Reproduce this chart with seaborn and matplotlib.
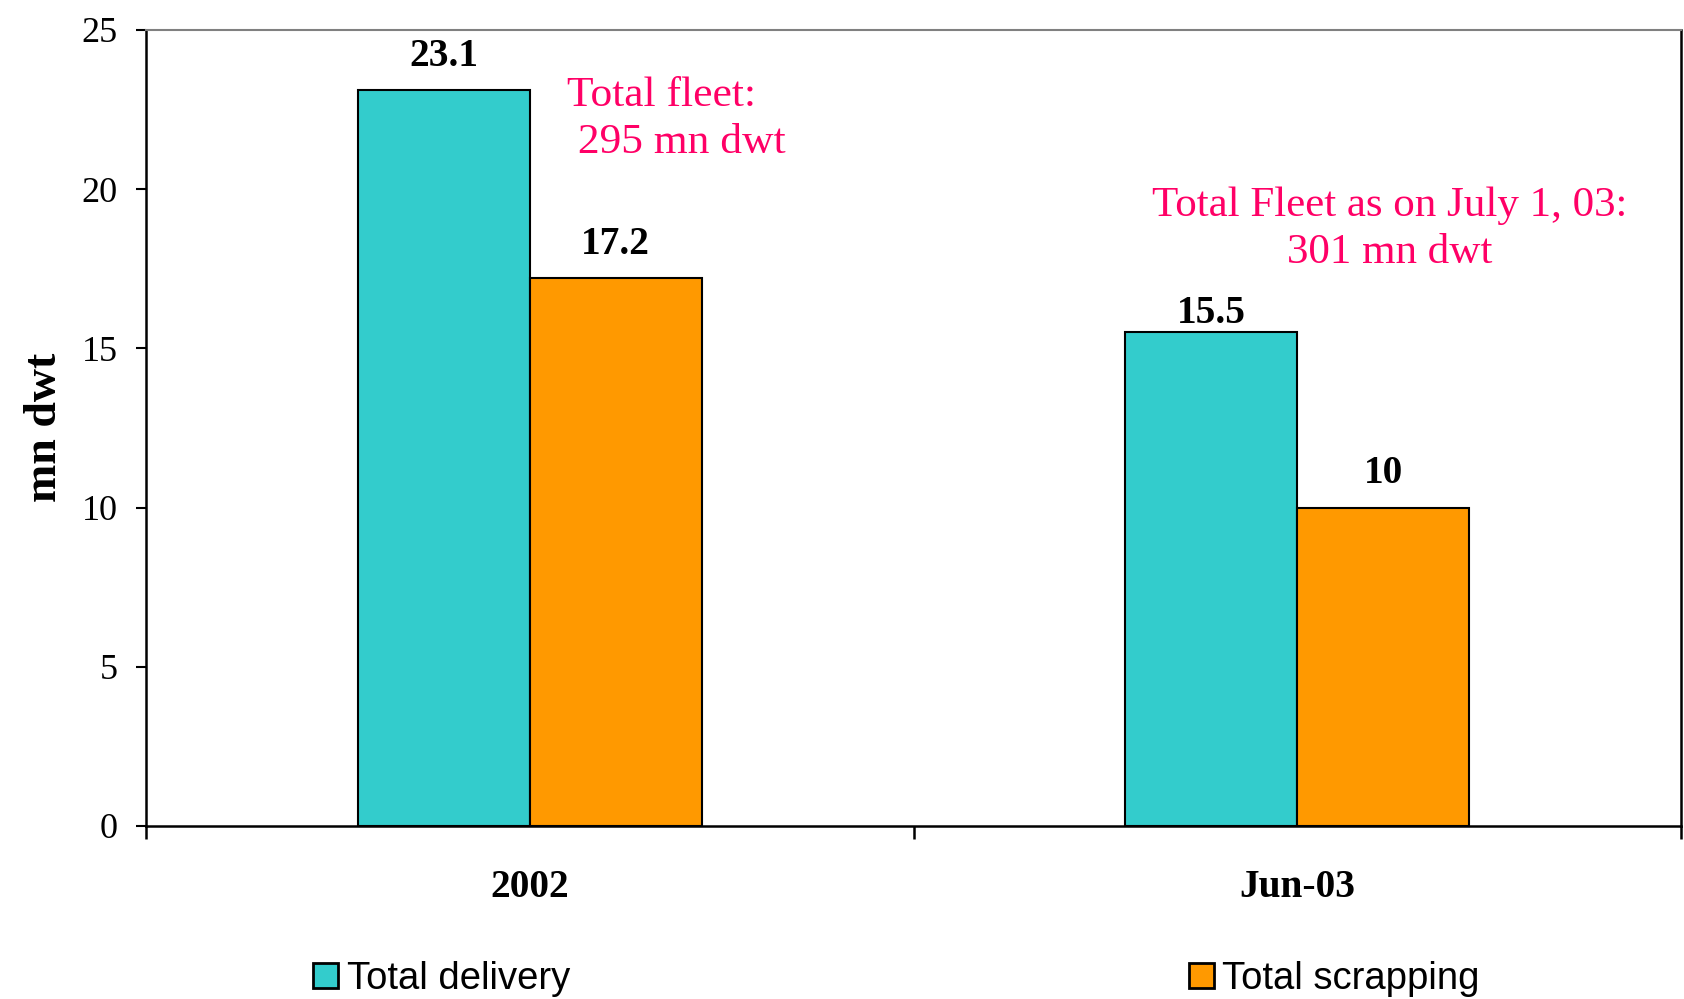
import matplotlib
matplotlib.use("Agg")
import matplotlib.pyplot as plt
from matplotlib.patches import Patch
import pandas as pd
import seaborn as sns

# ---- data ----
periods = ["2002", "Jun-03"]
series = ["Total delivery", "Total scrapping"]
delivery = [23.1, 15.5]
scrapping = [17.2, 10.0]
y_ticks = [0, 5, 10, 15, 20, 25]
fleet_notes = ["Total fleet:\n 295 mn dwt", "Total Fleet as on July 1, 03:\n301 mn dwt"]

# ---- styling ----
colors = {"Total delivery": "#33CCCC", "Total scrapping": "#FF9900"}
PINK = "#FF0066"
label_pads = [[11, 0], [11, 11]]   # per series, per period (points)

sns.set_theme(style="white")
plt.rcParams["font.family"] = ["Liberation Serif", "DejaVu Serif"]
for key in ["text.color", "axes.labelcolor", "xtick.color", "ytick.color"]:
    plt.rcParams[key] = "black"

df = pd.DataFrame({
    "period": periods * 2,
    "series": [series[0]] * len(periods) + [series[1]] * len(periods),
    "value": delivery + scrapping,
})

W, H = 1684, 999
fig = plt.figure(figsize=(W / 100, H / 100), dpi=100)
fig.patch.set_facecolor("white")
ax = fig.add_axes([146 / W, 173 / H, 1535 / W, 796 / H])

sns.barplot(
    data=df, x="period", y="value", hue="series",
    order=periods, hue_order=series, palette=colors,
    width=0.448, gap=0, saturation=1, errorbar=None,
    edgecolor="black", linewidth=1.5, ax=ax,
)
if ax.get_legend() is not None:
    ax.get_legend().remove()

# value labels
for container, pads in zip(ax.containers, label_pads):
    anns = ax.bar_label(container, labels=[f"{v:g}" for v in container.datavalues],
                        padding=11, fontsize=28.4, fontweight="bold", color="black")
    for ann, p in zip(anns, pads):
        ann.xyann = (0, p)

ax.set_xlim(-0.5, 1.5)
ax.set_ylim(0, 25)
ax.set_yticks(y_ticks)
ax.set_xlabel("")
ax.set_ylabel("")

ax.tick_params(axis="y", which="major", left=True, direction="out", length=7.5,
               width=1.5, pad=13, labelsize=26, colors="black")
ax.set_xticks(range(len(periods)))
ax.set_xticklabels(periods, fontsize=28.4, fontweight="bold", color="black")
ax.tick_params(axis="x", which="major", bottom=True, length=0, pad=31)
ax.set_xticks([-0.5, 0.5, 1.5], minor=True)
ax.tick_params(axis="x", which="minor", bottom=True, direction="out",
               length=9, width=1.8, color="black")

for side in ["left", "bottom", "right"]:
    ax.spines[side].set_color("black")
    ax.spines[side].set_linewidth(1.8)
ax.spines["top"].set_color("#808080")
ax.spines["top"].set_linewidth(1.5)
ax.grid(False)

# fleet notes
ax.text(0.0485, 22.2, fleet_notes[0], color=PINK, fontsize=31.3, linespacing=1.28,
        ha="left", va="center", multialignment="left")
ax.text(1.120, 18.75, fleet_notes[1], color=PINK, fontsize=31, linespacing=1.28,
        ha="center", va="center", multialignment="center")

# y axis title
fig.text(45 / W, 1 - 427 / H, "mn dwt", rotation=90, fontsize=33,
         fontweight="bold", ha="center", va="center", color="black")

# legend
handles = [Patch(facecolor=colors[s], edgecolor="black", linewidth=2) for s in series]
fig.legend(handles, series, loc="center left", bbox_to_anchor=(313 / W, 1 - 979 / H),
           ncol=2, frameon=False, borderpad=0, borderaxespad=0,
           handlelength=0.66, handleheight=0.66, handletextpad=0.22,
           columnspacing=16.2, labelcolor="black",
           prop={"family": "Liberation Sans", "size": 27.5})

fig.savefig("out.png", dpi=100, facecolor="white")
